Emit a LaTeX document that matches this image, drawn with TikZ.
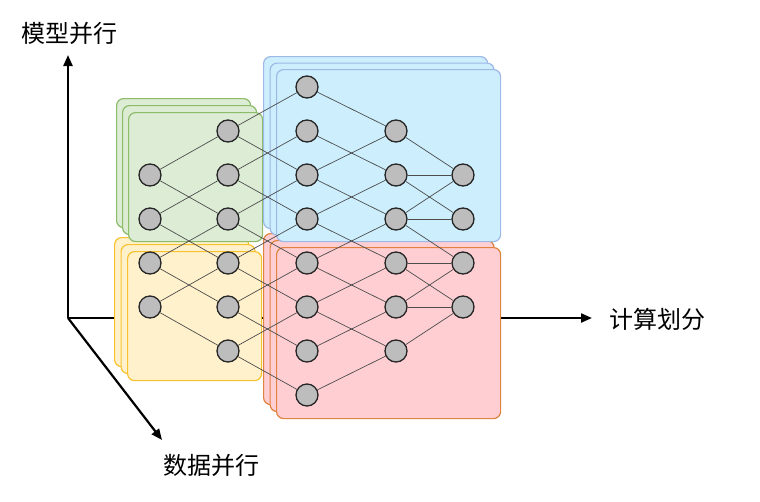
\documentclass[tikz,border=0pt]{standalone}
\usepackage{fontspec}
\usepackage{xcolor}
\usepackage{tikz}
\usetikzlibrary{positioning, arrows.meta}
\newfontfamily\cjk{Noto Sans CJK SC}

\definecolor{greenfill}{HTML}{DDEDD5}
\definecolor{greenline}{HTML}{8CBB6A}
\definecolor{yellowfill}{HTML}{FFF1CC}
\definecolor{yellowline}{HTML}{F8C22E}
\definecolor{bluefill}{HTML}{CCEEFD}
\definecolor{blueline}{HTML}{9EB9E6}
\definecolor{redfill}{HTML}{FFCED3}
\definecolor{redline}{HTML}{E0833F}
\definecolor{neurongray}{HTML}{BDBDBD}

\begin{document}
\begin{tikzpicture}[x=1pt, y=-1pt,
  every node/.style={font=\cjk\fontsize{24}{28}\selectfont, align=center},
  axis/.style={-{Triangle[length=11pt, width=9pt]}, line width=2.2pt},
  layer/.style={rounded corners=7pt, line width=1.2pt, anchor=north west,
                inner sep=0pt},
  greenbox/.style={layer, draw=greenline, fill=greenfill,
                   minimum width=134pt, minimum height=129pt},
  yellowbox/.style={layer, draw=yellowline, fill=yellowfill,
                    minimum width=134pt, minimum height=129pt},
  bluebox/.style={layer, draw=blueline, fill=bluefill,
                  minimum width=224pt, minimum height=172pt},
  redbox/.style={layer, draw=redline, fill=redfill,
                 minimum width=224pt, minimum height=171pt},
  neuron/.style={circle, draw=black!85, fill=neurongray, line width=1.3pt,
                 minimum size=22pt, inner sep=0pt},
  link/.style={draw=black!70, line width=0.7pt}
]
  \useasboundingbox (0,0) rectangle (760,501);

  % axes
  \coordinate (origin) at (68,318);
  \coordinate (uptip) at (68,55);
  \coordinate (righttip) at (592,318);
  \coordinate (downtip) at (162,440);
  \draw[axis] (origin) -- (uptip);
  \draw[axis] (origin) -- (righttip);
  \draw[axis] (origin) -- (downtip);
  \node (model) at (69,33) {模型并行};
  \node (compute) at (657,319) {计算划分};
  \node (data) at (211,465) {数据并行};

  % stacked partitions
  \foreach \k in {0,1,2} {
    \node[yellowbox] (yellow\k) at (114+6.5*\k, 237+7*\k) {};
  }
  \foreach \k in {0,1,2} {
    \node[greenbox] (green\k) at (116+6*\k, 98+7*\k) {};
  }
  \foreach \k in {0,1,2} {
    \node[redbox] (red\k) at (263+6.5*\k, 233+7*\k) {};
  }
  \foreach \k in {0,1,2} {
    \node[bluebox] (blue\k) at (263+6.5*\k, 56+6.5*\k) {};
  }

  % neurons, one row every 44px
  \foreach \r in {2,...,5} \node[neuron] (a\r) at (150, 87+44*\r) {};
  \foreach \r in {1,...,6} \node[neuron] (b\r) at (228, 87+44*\r) {};
  \foreach \r in {0,...,7} \node[neuron] (c\r) at (307, 87+44*\r) {};
  \foreach \r in {1,...,6} \node[neuron] (d\r) at (396, 87+44*\r) {};
  \foreach \r in {2,...,5} \node[neuron] (e\r) at (463, 87+44*\r) {};

  % connections
  \foreach \r [evaluate=\r as \u using int(\r-1),
               evaluate=\r as \v using int(\r+1)] in {2,...,5} {
    \draw[link] (a\r) -- (b\u);
    \draw[link] (a\r) -- (b\v);
  }
  \foreach \r [evaluate=\r as \u using int(\r-1),
               evaluate=\r as \v using int(\r+1)] in {1,...,6} {
    \draw[link] (b\r) -- (c\u);
    \draw[link] (b\r) -- (c\v);
    \draw[link] (d\r) -- (c\u);
    \draw[link] (d\r) -- (c\v);
  }
  \foreach \s/\t in {1/2, 2/2, 2/3, 3/2, 3/3, 3/4, 4/4, 4/5, 5/4, 5/5, 6/5} {
    \draw[link] (d\s) -- (e\t);
  }
\end{tikzpicture}
\end{document}
